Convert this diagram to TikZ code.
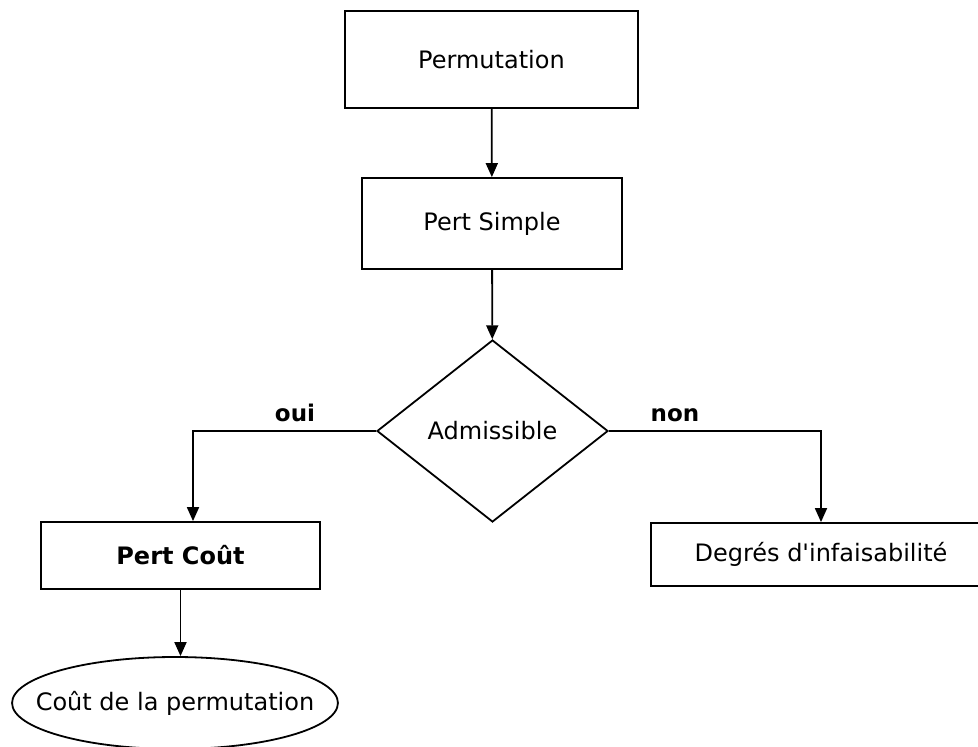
\documentclass[tikz,border=0pt]{standalone}
\usepackage{fontspec}
\setmainfont{DejaVu Sans}
\usetikzlibrary{shapes.geometric,arrows.meta}
\begin{document}
\begin{tikzpicture}[x=1pt,y=-1pt,line width=1.8pt,>={Triangle[width=12pt,length=14pt]}]
    \tikzstyle{every node}=[inner sep=4pt,font=\fontsize{24}{28}\selectfont]
    \tikzstyle{box}=[draw,rectangle]
    \tikzstyle{test}=[draw,diamond,inner sep=0pt]
    \tikzstyle{lbl}=[font=\fontsize{23}{27}\selectfont\bfseries]
    \useasboundingbox (0,0) rectangle (978,747);
    \clip (0,0) rectangle (978,747);
    \draw node[box,minimum width=293pt,minimum height=97pt](perm)at(491.5,59.5){Permutation}
          node[box,minimum width=260pt,minimum height=91pt](simple)at(492,223.5){Pert Simple}
          node[test,minimum width=231pt,minimum height=182pt](adm)at(492.5,431){Admissible}
          node[box,minimum width=279pt,minimum height=67pt](cout)at(180.5,555.5){\bfseries Pert Coût}
          node[box,minimum width=340pt,minimum height=63pt](degres)at(821,554.5){Degrés d\textquotesingle infaisabilité}
          node[draw,ellipse,inner xsep=-24pt,inner ysep=0pt,minimum height=92pt](res)at(175,703){Coût de la permutation};
    \draw node[lbl](oui)at(295,413){oui}
          node[lbl](non)at(675,415){non};
    \draw[->](perm)--(simple);
    \draw[->](simple)--(adm);
    \draw[->](adm.west)-|([xshift=12.5pt]cout.north);
    \draw[->](adm.east)-|(degres.north);
    \draw[->](cout.south)--(cout.south|-res.north);
\end{tikzpicture}
\end{document}
